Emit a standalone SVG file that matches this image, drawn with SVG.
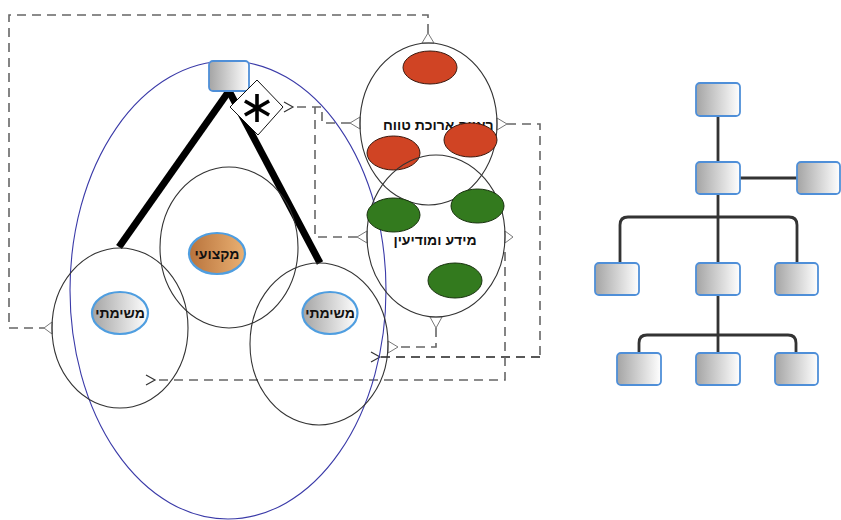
<svg xmlns="http://www.w3.org/2000/svg" width="841" height="520" viewBox="0 0 841 520">
  <defs>
    <linearGradient id="gray" x1="0" y1="0" x2="1" y2="0">
      <stop offset="0" stop-color="#a4a4a4"/>
      <stop offset="1" stop-color="#ffffff"/>
    </linearGradient>
    <linearGradient id="orange" x1="0" y1="0" x2="1" y2="0">
      <stop offset="0" stop-color="#b8733c"/>
      <stop offset="1" stop-color="#eab072"/>
    </linearGradient>
  </defs>
  <style>
    .dash { fill: none; stroke: #666; stroke-width: 1.6; stroke-dasharray: 9 6; }
    .dashdark { fill: none; stroke: #222; stroke-width: 1.6; stroke-dasharray: 9 6; }
    .chev { fill: none; stroke: #333; stroke-width: 1.2; }
    .tri { fill: #fff; stroke: #777; stroke-width: 1; }
    .ring { fill: none; stroke: #333; stroke-width: 1.1; }
    .red { fill: #d04424; stroke: #3a1a10; stroke-width: 1; }
    .green { fill: #337a1e; stroke: #1a3310; stroke-width: 1; }
    .pill { fill: url(#gray); stroke: #4f9ee0; stroke-width: 2.2; }
    .box { fill: url(#gray); stroke: #4f8fd8; stroke-width: 1.8; }
    .lbl { font-family: "Liberation Sans", "DejaVu Sans", sans-serif; font-size: 14px; font-weight: bold; fill: #111; }
    .tree { fill: none; stroke: #333; stroke-width: 2.8; }
    .thick { stroke: #000; stroke-width: 7; stroke-linecap: butt; }
  </style>

  <!-- dashed connectors -->
  <g id="connectors">
    <path class="dash" d="M428,33 V15 H9 V328 H44"/>
    <path class="dash" d="M350,123 H322 V107 H294"/>
    <path class="dash" d="M357,237 H315 V107"/>
    <path class="dash" d="M507,124 H540 V357"/>
    <path class="dashdark" d="M540,357 H380"/>
    <path class="dash" d="M505,252 V380 H155"/>
    <path class="dash" d="M436,328 V347 H398"/>
    <!-- open chevrons at line ends -->
    <path class="chev" d="M371,352 L380,357 L371,362"/>
    <path class="chev" d="M146,375 L155,380 L146,385"/>
    <!-- small open triangles where lines meet the shapes -->
    <polygon class="tri" points="422,43 434,43 428,33"/>
    <polygon class="tri" points="52,322 52,334 44,328"/>
    <polygon class="tri" points="360,117 360,129 350,123"/>
    <polygon class="tri" points="497,118 497,130 507,124"/>
    <polygon class="tri" points="367,231 367,243 357,237"/>
    <polygon class="tri" points="505,231 505,243 513,237"/>
    <polygon class="tri" points="430,317 442,317 436,328"/>
    <polygon class="tri" points="388,341 388,353 398,347"/>
  </g>

  <!-- outer blue ellipse -->
  <g id="outer">
    <ellipse cx="228" cy="290" rx="158" ry="229" fill="none" stroke="#3a3aa8" stroke-width="1.1"/>
  </g>

  <!-- thick hierarchy lines -->
  <g id="links">
    <line class="thick" x1="229" y1="91" x2="119" y2="247"/>
    <line class="thick" x1="229" y1="91" x2="320" y2="263"/>
  </g>

  <g id="top-box">
    <rect class="box" x="209" y="61" width="40" height="30" rx="4"/>
  </g>

  <g id="star">
    <polygon points="257,80 283,107 258,135 230,107" fill="#fff" stroke="#111" stroke-width="1"/>
    <g stroke="#000" stroke-width="3.6" stroke-linecap="butt">
      <line x1="257" y1="94" x2="257" y2="122"/>
      <line x1="244.9" y1="101" x2="269.1" y2="115"/>
      <line x1="244.9" y1="115" x2="269.1" y2="101"/>
    </g>
    <path class="chev" d="M284,102 L293,107 L284,112"/>
  </g>

  <g id="task-left">
    <ellipse class="ring" cx="120" cy="328" rx="68" ry="80"/>
    <ellipse class="pill" cx="120" cy="313" rx="28" ry="21"/>
    <text class="lbl" x="120" y="318" text-anchor="middle">משימתי</text>
  </g>

  <g id="professional">
    <ellipse class="ring" cx="229" cy="247.5" rx="69" ry="80.5"/>
    <ellipse cx="217" cy="253.5" rx="28" ry="20.5" fill="url(#orange)" stroke="#4f9ee0" stroke-width="2.2"/>
    <text class="lbl" x="217" y="258.5" text-anchor="middle">מקצועי</text>
  </g>

  <g id="task-right">
    <ellipse class="ring" cx="319" cy="344" rx="69" ry="81"/>
    <ellipse class="pill" cx="330" cy="313" rx="27.5" ry="21"/>
    <text class="lbl" x="330" y="318" text-anchor="middle">משימתי</text>
  </g>

  <g id="long-term">
    <ellipse class="ring" cx="428.5" cy="124" rx="68.5" ry="81"/>
    <text class="lbl" x="383" y="130">ראייה ארוכת טווח</text>
    <ellipse class="red" cx="430" cy="67.5" rx="27" ry="16.5"/>
    <ellipse class="red" cx="393.5" cy="153" rx="26.5" ry="17"/>
    <ellipse class="red" cx="470.5" cy="140" rx="26.5" ry="17"/>
  </g>

  <g id="intel">
    <ellipse class="ring" cx="436" cy="236" rx="69" ry="81"/>
    <text class="lbl" x="435" y="245" text-anchor="middle">מידע ומודיעין</text>
    <ellipse class="green" cx="393.5" cy="215" rx="26.5" ry="17"/>
    <ellipse class="green" cx="477.5" cy="206" rx="26.5" ry="17"/>
    <ellipse class="green" cx="455" cy="280.5" rx="27" ry="17.5"/>
  </g>

  <!-- organisation chart -->
  <g id="tree-links">
    <line class="tree" x1="718" y1="116" x2="718" y2="353"/>
    <line class="tree" x1="740" y1="178" x2="797" y2="178"/>
    <path class="tree" d="M620,263 V225 Q620,217 628,217 H789 Q797,217 797,225 V263"/>
    <path class="tree" d="M639,353 V343 Q639,335 647,335 H788 Q796,335 796,343 V353"/>
  </g>
  <g id="org-root"><rect class="box" x="696" y="83" width="44" height="33" rx="4"/></g>
  <g id="org-mid"><rect class="box" x="696" y="162" width="44" height="32" rx="4"/></g>
  <g id="org-side"><rect class="box" x="797" y="162" width="43" height="32" rx="4"/></g>
  <g id="org-l1"><rect class="box" x="595" y="263" width="44" height="32" rx="4"/></g>
  <g id="org-l2"><rect class="box" x="696" y="263" width="44" height="32" rx="4"/></g>
  <g id="org-l3"><rect class="box" x="775" y="263" width="43" height="32" rx="4"/></g>
  <g id="org-b1"><rect class="box" x="617" y="353" width="44" height="32" rx="4"/></g>
  <g id="org-b2"><rect class="box" x="696" y="353" width="44" height="32" rx="4"/></g>
  <g id="org-b3"><rect class="box" x="775" y="353" width="43" height="32" rx="4"/></g>
</svg>
